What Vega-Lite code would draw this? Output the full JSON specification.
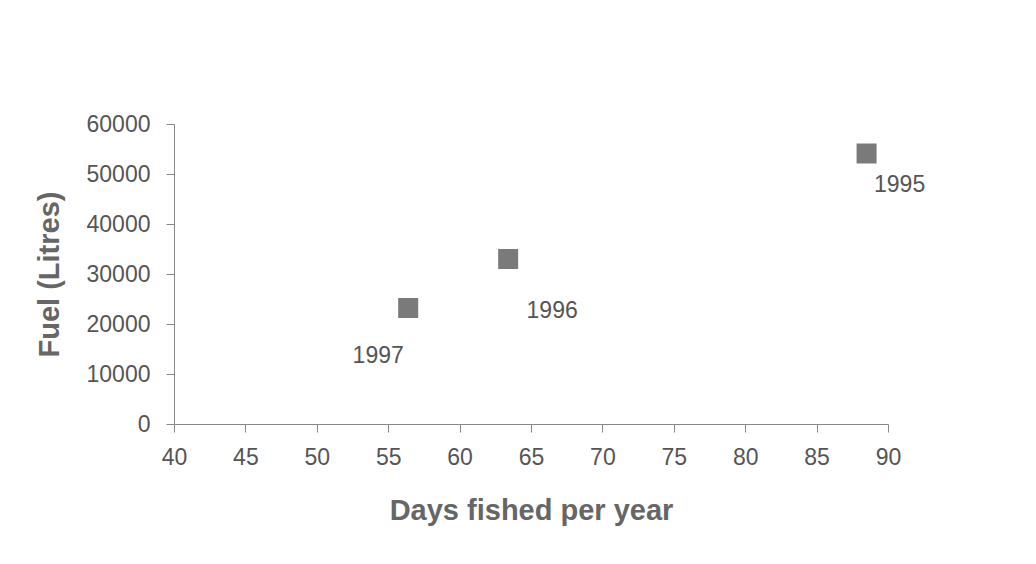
{
  "$schema": "https://vega.github.io/schema/vega-lite/v6.json",
  "width": 714,
  "height": 300,
  "autosize": {"type": "none"},
  "padding": {"left": 174, "top": 124, "right": 148, "bottom": 140},
  "background": "white",
  "config": {
    "view": {"stroke": null},
    "font": "Liberation Sans",
    "axis": {"grid": false, "domainColor": "#888", "tickColor": "#888", "labelColor": "#555", "titleColor": "#666", "labelFont": "Liberation Sans", "titleFont": "Liberation Sans", "labelFlush": false, "labelOverlap": false}
  },
  "data": {
    "values": [
      {"days": 88.5, "fuel": 54100, "year": "1995"},
      {"days": 63.4, "fuel": 33000, "year": "1996"},
      {"days": 56.4, "fuel": 23200, "year": "1997"}
    ]
  },
  "encoding": {
    "x": {"field": "days", "type": "quantitative", "scale": {"domain": [40, 90], "nice": false, "zero": false},
      "axis": {"title": "Days fished per year", "values": [40,45,50,55,60,65,70,75,80,85,90], "labelFontSize": 23, "labelPadding": 14, "tickSize": 8, "titleFontSize": 29, "titleFontWeight": "bold", "titlePadding": 27}},
    "y": {"field": "fuel", "type": "quantitative", "scale": {"domain": [0, 60000], "nice": false},
      "axis": {"title": "Fuel (Litres)", "values": [0,10000,20000,30000,40000,50000,60000], "format": "d", "labelFontSize": 23, "labelPadding": 16, "tickSize": 8, "titleFontSize": 29, "titleFontWeight": "bold", "titlePadding": 22}}
  },
  "layer": [
    {"mark": {"type": "square", "size": 400, "color": "#7a7a7a", "opacity": 1, "filled": true}},
    {"transform": [{"filter": "datum.year == '1997'"}],
      "mark": {"type": "text", "fontSize": 23, "color": "#555", "align": "center", "baseline": "middle", "dx": -30, "dy": 48},
      "encoding": {"text": {"field": "year"}}},
    {"transform": [{"filter": "datum.year == '1996'"}],
      "mark": {"type": "text", "fontSize": 23, "color": "#555", "align": "center", "baseline": "middle", "dx": 44, "dy": 52},
      "encoding": {"text": {"field": "year"}}},
    {"transform": [{"filter": "datum.year == '1995'"}],
      "mark": {"type": "text", "fontSize": 23, "color": "#555", "align": "center", "baseline": "middle", "dx": 33, "dy": 31},
      "encoding": {"text": {"field": "year"}}}
  ]
}
